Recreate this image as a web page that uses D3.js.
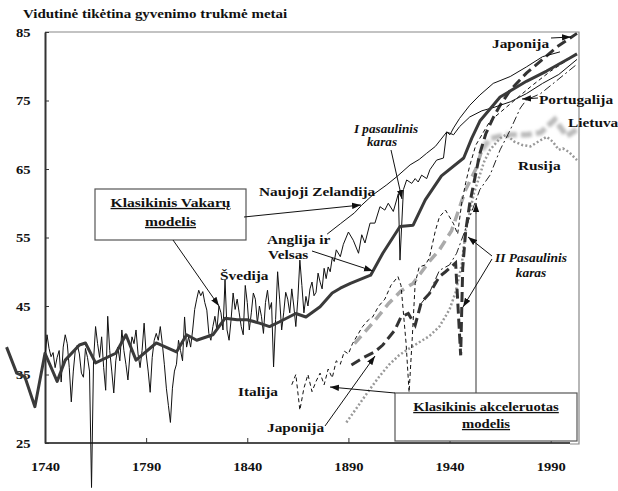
<!DOCTYPE html>
<html>
<head>
<meta charset="utf-8">
<script src="https://cdn.jsdelivr.net/npm/d3@7"></script>
<style>
  body { margin: 0; background: #fff; }
  text { font-family: "Liberation Serif", "Times New Roman", serif; font-weight: bold; fill: #111; }
</style>
</head>
<body>
<script>
// ---- data ----
let swedenYears = [1740,1741,1742,1743,1744,1745,1746,1747,1748,1749,1750,1751,1752,1753,1754,1755,1756,1757,1758,1759,
  1760,1761,1762,1763,1764,1765,1766,1767,1768,1769,1770,1771,1772,1773,1774,1775,1776,1777,1778,1779,
  1780,1781,1782,1783,1784,1785,1786,1787,1788,1789,1790,1791,1792,1793,1794,1795,1796,1797,1798,1799,
  1800,1801,1802,1803,1804,1805,1806,1807,1808,1809,1810,1811,1812,1813,1814,1815,1816,1817,1818,1819,
  1820,1821,1822,1823,1824,1825,1826,1827,1828,1829,1830,1831,1832,1833,1834,1835,1836,1837,1838,1839,
  1840,1841,1842,1843,1844,1845,1846,1847,1848,1849,1850,1851,1852,1853,1854,1855,1856,1857,1858,1859,
  1860,1861,1862,1863,1864,1865,1866,1867,1868,1869,1870,1871,1872,1873,1874,1875,1876,1877,1878,1879,
  1880,1881,1882,1883,1884,1886,1887.5,1890,1892.4,1895,1896.6,1898.2,1900.7,1903.1,1905.6,1908,1909.7,
  1912.2,1914.7,1915.5,1917.2,1918.8,1921.3,1923,1924.5,1926.2,1928.7,1930.3,1933.6,1937,1938.6,1940.2,
  1942,1945,1950,1955,1961.6,1970,1978,1986,1994.6,2002];
let swedenLE = [37.5,40.8,38.8,37.6,38.2,36,37.5,38.5,33.9,39,40.8,39.5,36,31,35.5,38.6,39.3,38,35.2,34.6,
  38.8,37.5,35.5,18.5,37,42,39.5,37.5,40.5,36,32.7,43.5,38.5,35.5,32.3,37,39,37,41.5,38.5,
  36.5,34.2,38,40.5,39.5,41.5,38,36,38.5,42.5,38,35.5,32.4,37.5,40,41,40,42,39.5,36.5,
  33,30.5,28,33,35.5,36.5,40,38.5,37,43.4,39,40.5,39,41.5,44.5,46,47.3,46.5,47.1,45.5,
  44.4,41,40,42,43.5,41.5,45,44,41.5,48.8,41.5,40,43,46.9,44.5,46,44,42,40.8,48,
  45.5,41.5,44,46.9,46,42.5,45,43.5,41,45.5,47.3,44.5,45.5,36.1,43,50,46,41.5,44,47,
  46,44,47.5,45,42,46,51.7,48,44,46.4,45,47.5,48.5,46.5,47,49.8,48.5,47.5,50.5,49,
  50.7,50,52,51.5,53.2,52.2,54,55.8,54.6,52.7,55.4,54.2,57.1,57.1,59.5,59,
  60,58.8,61.4,51.7,62,63.4,62.9,63.6,63.1,64.1,63.6,64.9,66.3,66.6,70.4,
  70,71,72.4,74.3,75.8,77.5,78.5,79.9,81.4,82.1];

let englandYears = [1721,1726,1730,1735,1740,1746,1750,1757,1760,1765,1775,1780,1785,1795,1805,1810,1815,1823,
  1829,1835,1840,1846,1851,1856,1864,1869,1876,1882,1886,1891,1901,1907,1915.5,1922,1928,1936,1947,1951,1955,
  1965,1978,1988,1999.5,2003];
let englandLE = [39,35.2,34.7,30.3,38.1,34,37.1,39.3,39.6,36.7,38.1,40.8,37.1,39.6,38.3,40.8,40,40.8,
  43.2,43,43,42.5,42,42.7,43.9,43.4,44.9,46.9,47.6,48.3,49.5,52.7,56.6,56.8,60.5,64,66.6,69.5,72,
  75.5,77.8,79.3,81.2,81.8];

let nzYears = [1879.5,1886,1893,1896.5,1902,1909,1914,1920.5,1925,1928.7,1933,1938.6,1942,1945,1950,1956,1962,
  1970,1978,1986,1994,2003];
let nzLE = [55.5,57,58.6,59.7,61.2,62.7,63.9,65.6,66.4,67.3,68.3,70.4,70,71.2,72.6,73.5,74,74.8,76,77.5,78.8,81];

let italyYears = [1862,1864,1866,1868,1870,1872,1874,1876,1878,1880,1882,1884,1886,1888,1890,1892,1895,1897,
  1900,1902,1905,1908,1911,1914.5,1916,1918.5,1920,1921.5,1923,1925,1928,1930,1933,1935,1938,1940,1942,1944,
  1946,1948,1950,1953,1956,1960,1970,1980,1990,2003];
let italyLE = [33.5,35,29.8,33,35,32.5,34,35.2,33.5,35.8,34.5,37,36.5,38.4,38,39.5,41,42,
  43,43.4,45,46,48,49.3,48,39.6,32.4,40,48.3,50.7,51,52,56,58,59,58,57,55.5,
  60,63,65.5,68.5,70,72,74.5,77,79.3,81.8];

let japanYears = [1891.5,1897,1903,1907,1913,1916,1919.6,1923,1926,1930,1935,1938,1943,1945.5,1946.5,1948,1950,
  1955,1958,1961.6,1965,1970,1978,1988,1993,2003];
let japanLE = [36.4,37.4,38.3,39.3,41.5,43.4,43.9,42.2,45.5,46.8,49.3,50,51.3,37.8,50.5,56,60,
  67.3,70.2,72.5,74.3,76.5,79,81.5,82.8,84.8];

let portugalYears = [1925,1930,1935,1940,1943.5,1947,1950,1955,1960,1965,1970,1975,1978,1985,1993,2003];
let portugalLE = [45,46.9,50.2,51,52.7,55.5,58,62,64.1,67.8,70.7,73.9,75.1,76,77.9,80.3];

let russiaYears = [1889,1895,1900,1905,1910,1915,1919,1925,1930,1935,1940,1943,1946,1948,1952,1957,1960,1965,
  1968,1972,1976,1980,1985,1988,1991,1994,1996,1999,2003];
let russiaLE = [28,30.5,32.6,34.6,36.4,37.8,38.6,39.7,40.6,42,44.5,47,51,56,61.4,66,67.8,69.5,
  70,69,68.5,68.3,69.2,69.7,69,67.8,68,67.5,66.3];

let lithuaniaYears = [1893,1902,1910,1916,1922,1930,1935,1941,1948,1953,1956,1960,1965,1970,1978,1985,1992,
  1995,1998,2003];
let lithuaniaLE = [39.5,42.5,45.4,47.2,48.3,51.5,53.2,56,62,65,67.8,69.4,69.8,70,70,70.3,72.2,71,69.8,70.8];

let xTicks = [1740, 1790, 1840, 1890, 1940, 1990];
let yTicks = [25, 35, 45, 55, 65, 75, 85];

// ---- chart ----
let width = 618;
let height = 491;
let stretch = 1.18;   // the original lettering is wider than plain Times

let svg = d3.select('body').append('svg')
    .attr('width', width)
    .attr('height', height);

let xScale = d3.scaleLinear().domain([1740, 2004]).range([45, 579]);
let yScale = d3.scaleLinear().domain([25, 85]).range([443, 32]);

let defs = svg.append('defs');
defs.append('marker')
    .attr('id', 'arrow')
    .attr('viewBox', '0 0 10 7')
    .attr('refX', 10).attr('refY', 3.5)
    .attr('markerUnits', 'userSpaceOnUse')
    .attr('markerWidth', 9).attr('markerHeight', 7)
    .attr('orient', 'auto')
  .append('path')
    .attr('d', 'M0,0 L10,3.5 L0,7 z')
    .attr('fill', '#111');
defs.append('filter').attr('id', 'blur')
    .attr('x', '-10%').attr('y', '-50%').attr('width', '120%').attr('height', '200%')
  .append('feGaussianBlur').attr('stdDeviation', 1.6);

// light frame on top and right
svg.append('path')
    .attr('d', 'M45,32 H579 V444 H570')
    .attr('fill', 'none')
    .attr('stroke', '#888')
    .attr('stroke-width', 1.2);

// axes
let xAxis = d3.axisBottom(xScale).tickValues(xTicks).tickFormat(d3.format('d'))
    .tickSizeInner(-5).tickSizeOuter(0).tickPadding(19);
let yAxis = d3.axisLeft(yScale).tickValues(yTicks)
    .tickSizeInner(-4).tickSizeOuter(0).tickPadding(13);

let gx = svg.append('g').attr('transform', 'translate(0,443)').call(xAxis);
gx.select('.domain').attr('stroke', '#111').attr('stroke-width', 1.5).attr('d', 'M45,0H570');
let gy = svg.append('g').attr('transform', 'translate(45,0)').call(yAxis);
gy.select('.domain').attr('stroke', '#333').attr('stroke-width', 2);

svg.selectAll('.tick text')
    .attr('font-family', '"Liberation Serif", serif')
    .attr('font-weight', 'bold')
    .attr('font-size', 13)
    .attr('fill', '#111')
    .attr('transform', 'scale(1.12,1)');
svg.selectAll('.tick line').attr('stroke', '#333');

let line = d3.line().x(d => xScale(d[0])).y(d => yScale(d[1]));
let pairs = (ys, vs) => ys.map((y, i) => [y, vs[i]]);

// Lithuania: crisp dashes before ~1955, blurred after
let lit = pairs(lithuaniaYears, lithuaniaLE);
svg.append('path').datum(lit.filter(d => d[0] <= 1956))
    .attr('d', line).attr('fill', 'none')
    .attr('stroke', '#aaa').attr('stroke-width', 3.5).attr('stroke-dasharray', '10,6');
svg.append('path').datum(lit.filter(d => d[0] >= 1956))
    .attr('d', line).attr('fill', 'none').attr('filter', 'url(#blur)')
    .attr('stroke', '#bbb').attr('stroke-width', 5.5).attr('stroke-dasharray', '11,4');

// Russia dotted gray
svg.append('path').datum(pairs(russiaYears, russiaLE))
    .attr('d', line).attr('fill', 'none')
    .attr('stroke', '#999').attr('stroke-width', 2.5).attr('stroke-dasharray', '2,2.2');

// Portugal dash-dot
svg.append('path').datum(pairs(portugalYears, portugalLE))
    .attr('d', line).attr('fill', 'none')
    .attr('stroke', '#222').attr('stroke-width', 1).attr('stroke-dasharray', '8,3,2,3');

// Italy thin dashed
svg.append('path').datum(pairs(italyYears, italyLE))
    .attr('d', line).attr('fill', 'none')
    .attr('stroke', '#111').attr('stroke-width', 1).attr('stroke-dasharray', '4,3');

// Japan thick dashed
svg.append('path').datum(pairs(japanYears, japanLE))
    .attr('d', line).attr('fill', 'none')
    .attr('stroke', '#333').attr('stroke-width', 3).attr('stroke-dasharray', '10,5');

// New Zealand thin
svg.append('path').datum(pairs(nzYears, nzLE))
    .attr('d', line).attr('fill', 'none')
    .attr('stroke', '#111').attr('stroke-width', 1);

// Sweden thin yearly
svg.append('path').datum(pairs(swedenYears, swedenLE))
    .attr('d', line).attr('fill', 'none')
    .attr('stroke', '#111').attr('stroke-width', 1);

// England & Wales thick
svg.append('path').datum(pairs(englandYears, englandLE))
    .attr('d', line).attr('fill', 'none')
    .attr('stroke', '#3a3a3a').attr('stroke-width', 3).attr('stroke-linejoin', 'round');

// ---- annotations ----
function arrow(x1, y1, x2, y2) {
  svg.append('line').attr('x1', x1).attr('y1', y1).attr('x2', x2).attr('y2', y2)
      .attr('stroke', '#111').attr('stroke-width', 1).attr('marker-end', 'url(#arrow)');
}
function label(x, y, s, opts) {
  opts = opts || {};
  let sx = opts.sx || stretch;
  let t = svg.append('text')
      .attr('transform', 'translate(' + x + ',' + y + ') scale(' + sx + ',1)')
      .attr('font-size', opts.size || 13).text(s);
  if (opts.anchor) t.attr('text-anchor', opts.anchor);
  if (opts.italic) t.attr('font-style', 'italic');
  if (opts.under) t.attr('text-decoration', 'underline');
  return t;
}

// title
label(23, 18, 'Vidutinė tikėtina gyvenimo trukmė metai', {size: 12.5, sx: 1.2});

// boxes
svg.append('rect').attr('x', 95).attr('y', 189).attr('width', 151).attr('height', 51)
    .attr('fill', '#fff').attr('stroke', '#555').attr('stroke-width', 1.2);
label(170.5, 207, 'Klasikinis Vakarų', {anchor: 'middle', under: true, sx: 1.2});
label(170.5, 226, 'modelis', {anchor: 'middle', under: true, sx: 1.2});

svg.append('line').attr('x1', 476).attr('y1', 393).attr('x2', 476).attr('y2', 214)
    .attr('stroke', '#555').attr('stroke-width', 1.2);
arrow(476, 214, 476, 203);
svg.append('rect').attr('x', 395).attr('y', 393).attr('width', 182).attr('height', 48)
    .attr('fill', '#fff').attr('stroke', '#555').attr('stroke-width', 1.2);
label(486, 411, 'Klasikinis akceleruotas', {anchor: 'middle', under: true, sx: 1.13});
label(486, 428, 'modelis', {anchor: 'middle', under: true, sx: 1.13});

arrow(173, 240, 219, 306);
arrow(244, 217, 361, 205);
arrow(312, 251, 373, 271);
arrow(395, 393, 330, 387);
arrow(325, 426, 375, 356);
arrow(391, 150, 402, 199);
arrow(492, 256, 468, 237);
arrow(492, 259, 463, 307);
arrow(551, 38, 571, 37);
arrow(538, 98, 522, 99);

label(259, 196, 'Naujoji Zelandija');
label(267, 244, 'Anglija ir');
label(268, 259, 'Velsas');
label(220, 280, 'Švedija');
label(238, 396, 'Italija');
label(267, 432, 'Japonija');
label(492, 48, 'Japonija');
label(539, 104, 'Portugalija');
label(568, 127, 'Lietuva');
label(518, 170, 'Rusija');
label(386, 133, 'I pasaulinis', {anchor: 'middle', italic: true, size: 12, sx: 1.1});
label(382, 146, 'karas', {anchor: 'middle', italic: true, size: 12, sx: 1.1});
label(531, 262, 'II Pasaulinis', {anchor: 'middle', italic: true, size: 12, sx: 1.12});
label(531, 277, 'karas', {anchor: 'middle', italic: true, size: 12, sx: 1.12});
</script>
</body>
</html>
